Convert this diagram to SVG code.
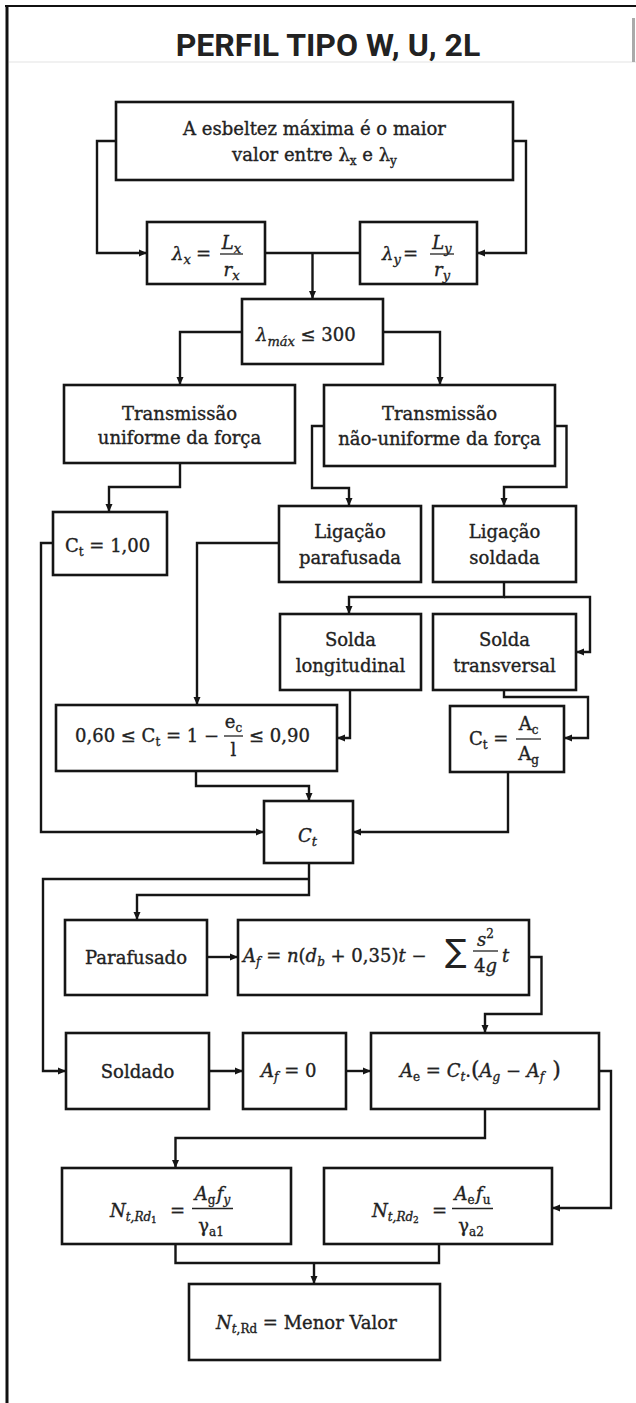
<svg xmlns="http://www.w3.org/2000/svg" width="636" height="1403" viewBox="0 0 636 1403">
<defs>
<style>
.box{fill:#fff;stroke:#151515;stroke-width:2.6}
.c{fill:none;stroke:#151515;stroke-width:2.4}
.ca{fill:none;stroke:#151515;stroke-width:2.4;marker-end:url(#ah)}
.t{font-family:'DejaVu Serif',serif;font-size:18px;fill:#222;stroke:#222;stroke-width:0.35;text-anchor:middle}
.m{font-family:'DejaVu Serif',serif;font-size:18px;fill:#222;stroke:#222;stroke-width:0.35}
.mc{font-family:'DejaVu Serif',serif;font-size:18px;fill:#222;stroke:#222;stroke-width:0.35;text-anchor:middle}
.i{font-style:italic}
.bar{stroke:#222;stroke-width:1.3}
</style>
<marker id="ah" markerWidth="8" markerHeight="8" refX="8" refY="4" orient="auto" markerUnits="userSpaceOnUse">
<path d="M0,0.5 L8,4 L0,7.5 z" fill="#151515"/>
</marker>
</defs>
<rect x="0" y="0" width="636" height="1403" fill="#fff"/>
<g id="frame">
<line x1="7" y1="5" x2="7" y2="1403" stroke="#111" stroke-width="3"/>
<line x1="5" y1="6" x2="636" y2="6" stroke="#111" stroke-width="2"/>
<line x1="9" y1="62" x2="636" y2="62" stroke="#ececec" stroke-width="1.5"/>
<rect x="632" y="18" width="3" height="44" fill="#aaa"/>
<text x="328" y="56" font-family="Roboto" font-weight="700" font-size="32" fill="#222" text-anchor="middle">PERFIL TIPO W, U, 2L</text>
</g>
<g id="connectors">
<path class="ca" d="M116,141 H97 V253 H147"/>
<path class="ca" d="M513,141 H526 V253 H477"/>
<path class="c" d="M265,253 H360"/>
<path class="ca" d="M312.5,253 V299"/>
<path class="ca" d="M242,332 H180 V385"/>
<path class="ca" d="M383,332 H440 V385"/>
<path class="ca" d="M180,463 V487 H109 V512"/>
<path class="ca" d="M324,426 H312 V488 H349 V506"/>
<path class="ca" d="M555,426 H566.5 V487 H504 V506"/>
<path class="ca" d="M53,543 H41 V832 H264"/>
<path class="ca" d="M279,543 H197 V705"/>
<path class="ca" d="M504,582 V597 H349 V614"/>
<path class="ca" d="M504,597 H590 V652 H576"/>
<path class="ca" d="M350,690 V738 H337"/>
<path class="ca" d="M504,690 V697 H588 V738 H564"/>
<path class="ca" d="M196,771 V786 H309 V801"/>
<path class="ca" d="M508,772 V832 H353"/>
<path class="ca" d="M309,863 V895 H137 V920"/>
<path class="ca" d="M309,879 H43 V1071 H66"/>
<path class="ca" d="M207,957 H238"/>
<path class="ca" d="M529,957 H541.5 V1014 H485 V1033"/>
<path class="ca" d="M209,1071 H243"/>
<path class="ca" d="M346,1071 H371"/>
<path class="ca" d="M485,1109 V1138 H175.5 V1168"/>
<path class="ca" d="M599,1071 H611 V1208 H552"/>
<path class="c" d="M175.5,1244 V1263 H439 V1244"/>
<path class="ca" d="M314,1263 V1284"/>
</g>
<g id="n-esbeltez">
<rect class="box" x="116" y="102" width="397" height="78"/>
<text class="t" x="314.5" y="135">A esbeltez máxima é o maior</text>
<text class="t" x="314.5" y="161">valor entre λ<tspan dy="4" font-size="12">x</tspan><tspan dy="-4"> e λ</tspan><tspan dy="4" font-size="12">y</tspan></text>
</g>
<g id="n-lambdax">
<rect class="box" x="147" y="222" width="118" height="62"/>
<text class="m" x="172" y="260" font-size="20"><tspan class="i">λ</tspan><tspan class="i" dy="4" font-size="13">x</tspan></text>
<text class="m" x="196" y="260" font-size="20">=</text>
<line class="bar" x1="220" y1="254" x2="243" y2="254"/>
<text class="mc" x="231.5" y="249" font-size="20"><tspan class="i">L</tspan><tspan class="i" dy="4" font-size="13">x</tspan></text>
<text class="mc" x="231.5" y="276" font-size="20"><tspan class="i">r</tspan><tspan class="i" dy="4" font-size="13">x</tspan></text>
</g>
<g id="n-lambday">
<rect class="box" x="360" y="222" width="117" height="62"/>
<text class="m" x="382" y="260" font-size="20"><tspan class="i">λ</tspan><tspan class="i" dy="4" font-size="13">y</tspan></text>
<text class="m" x="403" y="260" font-size="20">=</text>
<line class="bar" x1="430" y1="254" x2="454" y2="254"/>
<text class="mc" x="442" y="249" font-size="20"><tspan class="i">L</tspan><tspan class="i" dy="4" font-size="13">y</tspan></text>
<text class="mc" x="442" y="276" font-size="20"><tspan class="i">r</tspan><tspan class="i" dy="4" font-size="13">y</tspan></text>
</g>
<g id="n-lambdamax">
<rect class="box" x="242" y="299" width="141" height="65"/>
<text class="m" x="256" y="341" font-size="20"><tspan class="i">λ</tspan><tspan class="i" dy="5" font-size="13">máx</tspan><tspan dy="-5"> ≤ 300</tspan></text>
</g>
<g id="n-uniforme">
<rect class="box" x="64" y="385" width="231" height="78"/>
<text class="t" x="179.5" y="420">Transmissão</text>
<text class="t" x="179.5" y="444">uniforme da força</text>
</g>
<g id="n-naouniforme">
<rect class="box" x="324" y="385" width="231" height="81"/>
<text class="t" x="439.5" y="420">Transmissão</text>
<text class="t" x="439.5" y="445">não-uniforme da força</text>
</g>
<g id="n-ct100">
<rect class="box" x="53" y="512" width="114" height="63"/>
<text class="m" x="65" y="552">C<tspan dy="4" font-size="12">t</tspan><tspan dy="-4"> = 1,00</tspan></text>
</g>
<g id="n-parafusada">
<rect class="box" x="279" y="506" width="142" height="76"/>
<text class="t" x="350" y="538">Ligação</text>
<text class="t" x="350" y="564">parafusada</text>
</g>
<g id="n-soldada">
<rect class="box" x="433" y="506" width="143" height="76"/>
<text class="t" x="504.5" y="538">Ligação</text>
<text class="t" x="504.5" y="564">soldada</text>
</g>
<g id="n-longitudinal">
<rect class="box" x="280" y="614" width="141" height="76"/>
<text class="t" x="350.5" y="646">Solda</text>
<text class="t" x="350.5" y="672">longitudinal</text>
</g>
<g id="n-transversal">
<rect class="box" x="433" y="614" width="143" height="76"/>
<text class="t" x="504.5" y="646">Solda</text>
<text class="t" x="504.5" y="672">transversal</text>
</g>
<g id="n-ct-ec">
<rect class="box" x="56" y="705" width="281" height="66"/>
<text class="m" x="75" y="742">0,60 ≤ C<tspan dy="4" font-size="12">t</tspan><tspan dy="-4"> = 1 −</tspan></text>
<line class="bar" x1="224" y1="736" x2="243" y2="736"/>
<text class="mc" x="233.5" y="728">e<tspan dy="4" font-size="12">c</tspan></text>
<text class="mc" x="233.5" y="756">l</text>
<text class="m" x="249" y="742">≤ 0,90</text>
</g>
<g id="n-ct-ac">
<rect class="box" x="450" y="706" width="114" height="66"/>
<text class="m" x="469" y="745">C<tspan dy="4" font-size="12">t</tspan><tspan dy="-4"> =</tspan></text>
<line class="bar" x1="516" y1="739" x2="541" y2="739"/>
<text class="mc" x="528.5" y="730">A<tspan dy="4" font-size="12">c</tspan></text>
<text class="mc" x="528.5" y="760">A<tspan dy="4" font-size="12">g</tspan></text>
</g>
<g id="n-ct">
<rect class="box" x="264" y="801" width="89" height="62"/>
<text class="m i" x="298" y="842" font-size="20">C<tspan dy="4" font-size="13">t</tspan></text>
</g>
<g id="n-parafusado">
<rect class="box" x="65" y="920" width="142" height="75"/>
<text class="t" x="136" y="964">Parafusado</text>
</g>
<g id="n-af">
<rect class="box" x="238" y="920" width="291" height="75"/>
<text class="m" x="243" y="962"><tspan class="i">A</tspan><tspan class="i" dy="4" font-size="12">f</tspan><tspan dy="-4"> = </tspan><tspan class="i">n</tspan>(<tspan class="i">d</tspan><tspan class="i" dy="4" font-size="12">b</tspan><tspan dy="-4"> + 0,35)</tspan><tspan class="i">t</tspan> −</text>
<text x="445" y="962" font-family="'DejaVu Sans',sans-serif" font-size="32" fill="#222">∑</text>
<line class="bar" x1="473" y1="951" x2="498" y2="951"/>
<text class="mc" x="485.5" y="946"><tspan class="i">s</tspan><tspan dy="-8" font-size="12">2</tspan></text>
<text class="mc" x="485.5" y="972">4<tspan class="i">g</tspan></text>
<text class="m i" x="502" y="962">t</text>
</g>
<g id="n-soldado">
<rect class="box" x="66" y="1033" width="143" height="76"/>
<text class="t" x="137.5" y="1078">Soldado</text>
</g>
<g id="n-af0">
<rect class="box" x="243" y="1033" width="103" height="76"/>
<text class="m" x="261" y="1077"><tspan class="i">A</tspan><tspan class="i" dy="4" font-size="12">f</tspan><tspan dy="-4"> = 0</tspan></text>
</g>
<g id="n-ae">
<rect class="box" x="371" y="1033" width="228" height="76"/>
<text class="m" x="400" y="1077"><tspan class="i">A</tspan><tspan dy="4" font-size="12">e</tspan><tspan dy="-4"> = </tspan><tspan class="i">C</tspan><tspan class="i" dy="4" font-size="12">t</tspan><tspan dy="-4">.</tspan><tspan font-size="22">(</tspan><tspan class="i">A</tspan><tspan class="i" dy="4" font-size="12">g</tspan><tspan dy="-4"> − </tspan><tspan class="i">A</tspan><tspan class="i" dy="4" font-size="12">f</tspan><tspan dy="-4" dx="8" font-size="22">)</tspan></text>
</g>
<g id="n-nrd1">
<rect class="box" x="62" y="1168" width="229" height="76"/>
<text class="m" x="110" y="1217"><tspan class="i">N</tspan><tspan class="i" dy="4" font-size="12">t,Rd</tspan><tspan dy="2" font-size="9">1</tspan></text>
<text class="m" x="170" y="1217">=</text>
<line class="bar" x1="192" y1="1208.5" x2="233" y2="1208.5"/>
<text class="mc" x="212.5" y="1200"><tspan class="i">A</tspan><tspan dy="4" font-size="12">g</tspan><tspan class="i" dy="-4" dx="1.5">f</tspan><tspan class="i" dy="4" font-size="12">y</tspan></text>
<text class="mc" x="211" y="1232">γ<tspan dy="4" font-size="12">a1</tspan></text>
</g>
<g id="n-nrd2">
<rect class="box" x="324" y="1168" width="228" height="76"/>
<text class="m" x="372" y="1217"><tspan class="i">N</tspan><tspan class="i" dy="4" font-size="12">t,Rd</tspan><tspan dy="2" font-size="9">2</tspan></text>
<text class="m" x="432" y="1217">=</text>
<line class="bar" x1="452" y1="1208.5" x2="493" y2="1208.5"/>
<text class="mc" x="472.5" y="1200"><tspan class="i">A</tspan><tspan dy="4" font-size="12">e</tspan><tspan class="i" dy="-4" dx="1.5">f</tspan><tspan dy="4" font-size="12">u</tspan></text>
<text class="mc" x="471" y="1232">γ<tspan dy="4" font-size="12">a2</tspan></text>
</g>
<g id="n-final">
<rect class="box" x="189" y="1284" width="251" height="76"/>
<text class="m" x="216" y="1329"><tspan class="i">N</tspan><tspan class="i" dy="4" font-size="12">t</tspan><tspan font-size="12">,Rd</tspan><tspan dy="-4"> = Menor Valor</tspan></text>
</g>
</svg>
